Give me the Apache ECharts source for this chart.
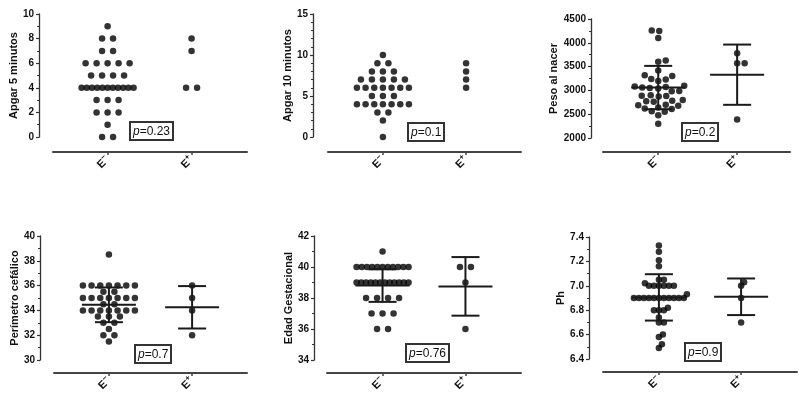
<!DOCTYPE html>
<html><head><meta charset="utf-8">
<script src="https://cdn.jsdelivr.net/npm/echarts@6/dist/echarts.min.js"></script>
<style>html,body{margin:0;padding:0;background:#fff}#c{width:799px;height:399px}</style>
</head><body><div id="c"></div>
<script>
// ---- data ----
const groups = ['E', 'E'];
const groupSup = ['\u2212', '+'];
const yTitles = ['Apgar 5 minutos', 'Apgar 10 minutos', 'Peso al nacer', 'Perímetro cefálico', 'Edad Gestacional', 'Ph'];
const pValues = ['0.23', '0.1', '0.2', '0.7', '0.76', '0.9'];

const apgar5Neg = [9,8,8,7,7,6,6,6,6,6,5,5,5,5,4,4,4,4,4,4,4,4,4,4,4,3,3,3,2,2,2,1,0,0];
const apgar5Pos = [8,7,4,4];
const apgar10Neg = [10,9,9,8,8,8,7,7,7,7,7,6,6,6,6,6,6,6,5,5,5,4,4,4,4,4,4,4,3,3,2,0];
const apgar10Pos = [9,8,7,6];
const pesoNeg = [4260,4250,4100,3630,3600,3420,3320,3300,3240,3230,3200,3100,3080,3070,3060,3050,3040,
  2990,2980,2900,2890,2880,2870,2800,2780,2770,2760,2700,2690,2680,2640,2620,2610,2560,2550,2480,2300];
const pesoPos = [3780,3570,3570,2390];
const perimNeg = [38.5,36,36,36,36,36,36,36,35.5,35.5,35,35,35,35,35,35,35,34.5,34.5,34,34,34,34,34,34,34,
  33.5,33.5,33.5,33,33,32.5,32,32,31.5];
const perimPos = [36,35,34,32];
const edadNeg = [41,40,40,40,40,40,40,40,40,40,40,40,39,39,39,39,39,39,39,39,39,39,39,39,38,38,38,38,37,37,37,36,36];
const edadPos = [40,40,39,36];
const phNeg = [7.33,7.28,7.21,7.16,7.05,7.05,7.02,7.0,7.0,7.0,7.0,7.0,7.0,6.93,
  6.9,6.9,6.9,6.9,6.9,6.9,6.9,6.9,6.9,6.9,6.9,6.82,6.8,6.8,6.8,6.74,6.7,6.7,6.6,6.58,6.52,6.49];
const phPos = [7.03,7.0,6.9,6.7];

// mean and SD bars (null = no bar)
const meanNeg = [null, null, 3060, 34.45, 38.8, 6.905];
const sdNeg   = [null, null, 455, 1.4, 1.05, 0.19];
const meanPos = [null, null, 3330, 34.25, 38.75, 6.91];
const sdPos   = [null, null, 633, 1.71, 1.89, 0.15];

const negSets = [apgar5Neg, apgar10Neg, pesoNeg, perimNeg, edadNeg, phNeg];
const posSets = [apgar5Pos, apgar10Pos, pesoPos, perimPos, edadPos, phPos];

// ---- layout ----
const panels = [
  {grid:{left:53,top:14,width:194,height:123}, xr:[-0.65,1.66], y:{min:0,max:10,interval:2,split:2,dec:0}, yOff:14, xOff:15, gap:20, mode:'rows', D:6, box:[130,122]},
  {grid:{left:328,top:14,width:193,height:123}, xr:[-0.66,1.66], y:{min:0,max:15,interval:5,split:5,dec:0}, yOff:15, xOff:15, gap:20, mode:'rows', D:6, box:[408,123]},
  {grid:{left:603,top:19,width:187,height:119}, xr:[-0.70,1.67], y:{min:2000,max:4500,interval:500,split:2,dec:0}, yOff:12, xOff:14, gap:31, mode:'swarm', D:7.2, box:[682,123]},
  {grid:{left:54,top:236,width:193,height:124}, xr:[-0.66,1.66], y:{min:30,max:40,interval:2,split:2,dec:0}, yOff:14, xOff:13, gap:20, mode:'rows', D:6, box:[135,345]},
  {grid:{left:327,top:236,width:194,height:124}, xr:[-0.67,1.67], y:{min:34,max:42,interval:2,split:2,dec:0}, yOff:13, xOff:13, gap:20, mode:'rows', D:6, box:[406,344]},
  {grid:{left:603,top:237,width:194,height:122}, xr:[-0.68,1.68], y:{min:6.4,max:7.4,interval:0.2,split:2,dec:1}, yOff:14, xOff:13, gap:23, mode:'swarm', D:4.6, box:[685,343]}
];

const FONT = '"Liberation Sans", Arial, sans-serif';
const INK = '#111';

function offsets(vals, mode, pxPerY, D) {
  const off = new Array(vals.length).fill(0);
  if (mode === 'rows') {
    const m = new Map();
    vals.forEach((v, i) => { if (!m.has(v)) m.set(v, []); m.get(v).push(i); });
    m.forEach(idx => {
      const k = idx.length;
      const s = k > 1 ? Math.min(11, 52 / (k - 1)) : 0;
      idx.forEach((i, j) => { off[i] = (j - (k - 1) / 2) * s; });
    });
  } else {
    const order = vals.map((v, i) => i).sort((a, b) => vals[a] - vals[b]);
    const placed = [];
    order.forEach(i => {
      const y = vals[i] * pxPerY;
      for (let k = 0; k < 600; k++) {
        const c = (k % 2 === 1 ? 1 : -1) * Math.ceil(k / 2) * 0.5;
        if (placed.every(p => Math.hypot(p.x - c, p.y - y) >= D)) {
          off[i] = c; placed.push({x: c, y}); break;
        }
      }
    });
  }
  return off;
}

const option = {
  animation: false,
  backgroundColor: '#fff',
  textStyle: {fontFamily: FONT},
  grid: [], xAxis: [], yAxis: [], series: [], title: []
};

panels.forEach((p, k) => {
  option.grid.push(Object.assign({containLabel: false}, p.grid));
  const pxPerX = p.grid.width / (p.xr[1] - p.xr[0]);
  const pxPerY = p.grid.height / (p.y.max - p.y.min);
  option.xAxis.push({
    type: 'value', gridIndex: k, min: p.xr[0], max: p.xr[1], offset: p.xOff, position: 'bottom',
    axisLine: {show: true, onZero: false, lineStyle: {color: '#444', width: 2}},
    axisTick: {show: true, customValues: [0, 1], length: 3, lineStyle: {color: '#444', width: 1.5}},
    axisLabel: {show: true, customValues: [0, 1], rotate: 45, margin: 6,
      formatter: v => { const g = Math.round(v); return groups[g] + '{s|' + groupSup[g] + '}'; },
      color: INK, fontSize: 11, fontWeight: 'bold', fontFamily: FONT,
      rich: {s: {fontSize: 8, fontWeight: 'bold', fontFamily: FONT, color: INK, padding: [0, 0, 7, 0]}}},
    splitLine: {show: false}
  });
  option.yAxis.push({
    type: 'value', gridIndex: k, min: p.y.min, max: p.y.max, interval: p.y.interval, offset: p.yOff, position: 'left',
    name: yTitles[k], nameLocation: 'middle', nameGap: p.gap, nameRotate: 90,
    nameTextStyle: {color: INK, fontSize: 11, fontWeight: 'bold', fontFamily: FONT},
    axisLine: {show: true, onZero: false, lineStyle: {color: '#333', width: 1.3}},
    axisTick: {show: true, length: 3, lineStyle: {color: '#333', width: 1.2}},
    minorTick: {show: true, splitNumber: p.y.split, length: 2, lineStyle: {color: '#333', width: 1}},
    axisLabel: {margin: 5, color: INK, fontSize: 10, fontWeight: 'bold', fontFamily: FONT,
      formatter: v => v.toFixed(p.y.dec)},
    splitLine: {show: false}, minorSplitLine: {show: false}
  });
  [negSets[k], posSets[k]].forEach((vals, g) => {
    const off = offsets(vals, p.mode, pxPerY, p.D);
    option.series.push({
      type: 'scatter', xAxisIndex: k, yAxisIndex: k, symbol: 'circle', symbolSize: 6.5,
      itemStyle: {color: '#000'}, z: 2, silent: true,
      data: vals.map((v, i) => [g + off[i] / pxPerX, v])
    });
  });
  const bars = [];
  if (meanNeg[k] !== null) bars.push([0, meanNeg[k], sdNeg[k]]);
  if (meanPos[k] !== null) bars.push([1, meanPos[k], sdPos[k]]);
  if (bars.length) {
    option.series.push({
      type: 'custom', xAxisIndex: k, yAxisIndex: k, z: 3, silent: true, clip: false,
      encode: {x: 0, y: 1},
      data: bars,
      renderItem: (params, api) => {
        const x = api.value(0), m = api.value(1), s = api.value(2);
        const c = api.coord([x, m]), t = api.coord([x, m + s]), b = api.coord([x, m - s]);
        const st = {stroke: '#1a1a1a', lineWidth: 2, fill: null};
        return {type: 'group', children: [
          {type: 'line', shape: {x1: c[0] - 27, y1: c[1], x2: c[0] + 27, y2: c[1]}, style: st},
          {type: 'line', shape: {x1: c[0], y1: t[1], x2: c[0], y2: b[1]}, style: st},
          {type: 'line', shape: {x1: c[0] - 14, y1: t[1], x2: c[0] + 14, y2: t[1]}, style: st},
          {type: 'line', shape: {x1: c[0] - 14, y1: b[1], x2: c[0] + 14, y2: b[1]}, style: st}
        ]};
      }
    });
  }
  option.title.push({
    text: '{i|p}=' + pValues[k], left: p.box[0], top: p.box[1],
    borderColor: '#333', borderWidth: 2, padding: [2, 3, 1, 3],
    textStyle: {color: INK, fontSize: 12, fontWeight: 'normal', fontFamily: FONT, lineHeight: 15,
      rich: {i: {fontStyle: 'italic', fontSize: 12, fontFamily: FONT, color: INK}}}
  });
});

const chart = echarts.init(document.getElementById('c'), null, {renderer: 'canvas'});
chart.setOption(option);
</script>
</body></html>
